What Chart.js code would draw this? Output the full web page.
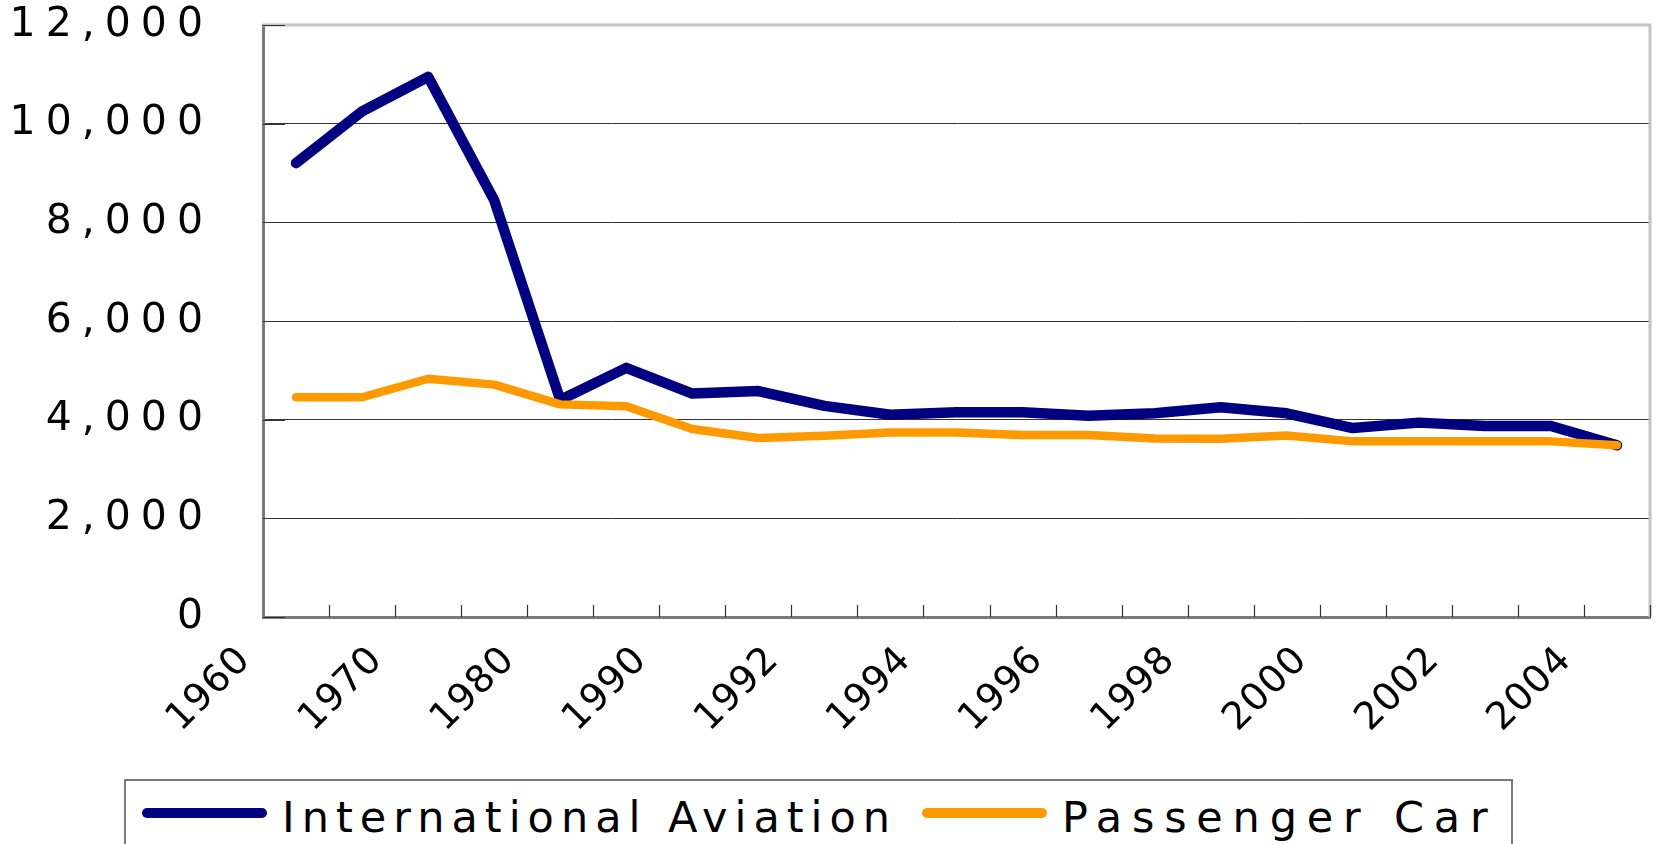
<!DOCTYPE html>
<html>
<head>
<meta charset="utf-8">
<script src="https://cdn.jsdelivr.net/npm/chart.js@4.4.1/dist/chart.umd.min.js"></script>
<style>
  html, body { margin: 0; padding: 0; background: #fff; }
  #wrap { position: relative; width: 1657px; height: 844px; overflow: hidden; }
  #chart { position: absolute; left: 0; top: 0; }
  .legend-box {
    position: absolute; left: 124px; top: 779px; width: 1385px; height: 100px;
    border: 2px solid #7a7a7a; background: #fff;
    font-family: "DejaVu Sans", sans-serif; font-size: 43px;
    letter-spacing: 7px; color: #000;
  }
  .legend-line { position: absolute; top: 27px; width: 125px; height: 10px; border-radius: 5px; }
  .legend-text { position: absolute; top: 14px; line-height: 44px; white-space: nowrap; }
</style>
</head>
<body>
<div id="wrap">
  <canvas id="chart" width="1657" height="844"></canvas>
  <div class="legend-box" id="legend"></div>
</div>
<script>
Chart.defaults.font.family = "'DejaVu Sans', sans-serif";
Chart.defaults.color = "#000";

const years = [
  "1960", "1965", "1970", "1975", "1980", "1985",
  "1990", "1991", "1992", "1993", "1994", "1995", "1996", "1997",
  "1998", "1999", "2000", "2001", "2002", "2003", "2004"
];
// only every other year gets a label on the axis
const shownYears = ["1960", "1970", "1980", "1990", "1992", "1994", "1996", "1998", "2000", "2002", "2004"];

const aviation = [9200, 10250, 10950, 8450, 4400, 5050, 4530, 4580, 4280, 4100, 4150,
                  4150, 4080, 4130, 4250, 4130, 3830, 3940, 3870, 3870, 3480];
const passengerCar = [4455, 4455, 4830, 4710, 4310, 4270, 3810, 3630, 3675, 3740, 3740,
                      3690, 3690, 3620, 3615, 3680, 3560, 3560, 3560, 3560, 3480];

const yTicks = [0, 2000, 4000, 6000, 8000, 10000, 12000];

const seriesNames = ["International Aviation", "Passenger Car"];
const seriesColors = ["#000080", "#FF9900"];

// letter spacing per axis, applied while the labels are drawn
const labelSpacing = { x: "1px", y: "10px" };

const framePlugin = {
  id: "frame",
  beforeDraw(chart) {
    Object.values(chart.scales).forEach(scale => {
      if (scale._spaced) return;
      const orig = scale.drawLabels.bind(scale);
      scale.drawLabels = function (area) {
        const c = this.ctx;
        c.save();
        c.letterSpacing = labelSpacing[this.id] || "0px";
        orig(area);
        c.restore();
      };
      scale._spaced = true;
    });
  },
  beforeDatasetsDraw(chart) {
    const { ctx, chartArea: a, scales } = chart;
    ctx.save();
    // light frame on top and right of the plot area
    ctx.strokeStyle = "#c4c4c4";
    ctx.lineWidth = 3;
    ctx.beginPath();
    ctx.moveTo(a.left, a.top);
    ctx.lineTo(a.right, a.top);
    ctx.lineTo(a.right, a.bottom);
    ctx.stroke();

    // inside tick marks on the category axis, between categories
    const xs = scales.x;
    const half = (xs.getPixelForValue(1) - xs.getPixelForValue(0)) / 2;
    ctx.strokeStyle = "#333";
    ctx.lineWidth = 1.2;
    ctx.beginPath();
    for (let i = 0; i < years.length; i++) {
      const px = Math.round(xs.getPixelForValue(i) + half) + 0.5;
      ctx.moveTo(px, a.bottom);
      ctx.lineTo(px, a.bottom - 12);
    }
    // inside tick marks on the value axis
    const ys = scales.y;
    yTicks.forEach(v => {
      const py = Math.round(ys.getPixelForValue(v)) + 0.5;
      ctx.moveTo(a.left, py);
      ctx.lineTo(a.left + 22, py);
    });
    ctx.stroke();
    ctx.restore();
  }
};

const ctx = document.getElementById("chart").getContext("2d");
new Chart(ctx, {
  type: "line",
  data: {
    labels: years,
    datasets: [
      {
        label: seriesNames[0],
        data: aviation,
        borderColor: seriesColors[0],
        borderWidth: 10.5,
        borderCapStyle: "round",
        borderJoinStyle: "round",
        pointRadius: 0,
        tension: 0,
        order: 1
      },
      {
        label: seriesNames[1],
        data: passengerCar,
        borderColor: seriesColors[1],
        borderWidth: 8.5,
        borderCapStyle: "round",
        borderJoinStyle: "round",
        pointRadius: 0,
        tension: 0,
        order: 0
      }
    ]
  },
  options: {
    responsive: false,
    animation: false,
    events: [],
    layout: { padding: { left: 0, top: 25, right: 7, bottom: 0 } },
    plugins: {
      legend: { display: false },
      tooltip: { enabled: false }
    },
    scales: {
      x: {
        offset: true,
        grid: { display: false, offset: true },
        border: { color: "#7a7a7a", width: 3 },
        ticks: {
          autoSkip: false,
          maxRotation: 45,
          minRotation: 45,
          padding: 13,
          labelOffset: -51,
          font: { size: 38 },
          callback: function (val, i) {
            const lab = years[i];
            return shownYears.includes(lab) ? lab : "";
          }
        },
        afterFit(scale) {
          scale.height = 227;
          scale.paddingLeft = 0;
          scale.paddingRight = 0;
        }
      },
      y: {
        min: yTicks[0],
        max: yTicks[yTicks.length - 1],
        grid: { color: "#333", lineWidth: 1, drawTicks: false },
        border: { color: "#7a7a7a", width: 3 },
        ticks: {
          stepSize: 2000,
          padding: 50,
          font: { size: 41 },
          callback: v => v.toLocaleString("en-US")
        },
        afterFit(scale) {
          scale.width = 263;
          scale.paddingTop = 0;
          scale.paddingBottom = 0;
        }
      }
    }
  },
  plugins: [framePlugin]
});

// legend with a frame, as in the original
const legendEl = document.getElementById("legend");
const legendPos = [[16, 156, 7], [796, 936, 9.8]];
legendEl.innerHTML = seriesNames.map((name, i) => `
  <span class="legend-line" style="left:${legendPos[i][0]}px;background:${seriesColors[i]}"></span>
  <span class="legend-text" style="left:${legendPos[i][1]}px;letter-spacing:${legendPos[i][2]}px">${name}</span>
`).join("");
</script>
</body>
</html>
